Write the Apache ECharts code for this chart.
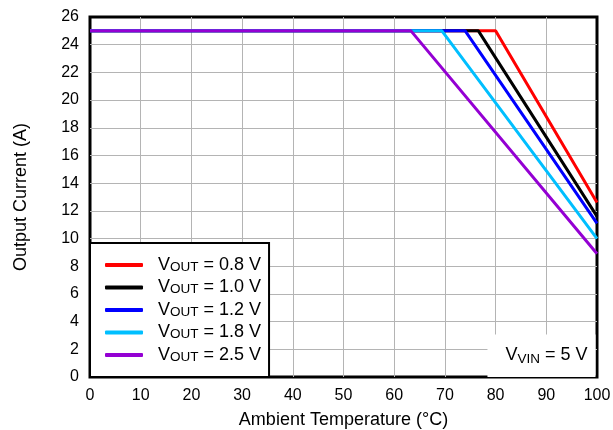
<!DOCTYPE html>
<html>
	<head>
		<meta charset="UTF-8">
		<title>Output Current vs Ambient Temperature</title>
		<script type="text/javascript" src="https://cdn.jsdelivr.net/npm/echarts@6/dist/echarts.min.js"></script>
		<style>
			body { margin: 0; background: #fff; }
			#chart { width: 613px; height: 430px; }
		</style>
	</head>
	<body>
		<div id="chart"></div>
		<script>
		// derating curves: flat at 25 A until the knee, then linear down to 100 °C
		var seriesNames = ["0.8", "1.0", "1.2", "1.8", "2.5"];
		var seriesColors = ["#ff0000", "#000000", "#0000ff", "#00bfff", "#9400d3"];
		var tempPoints = [
			[0, 80, 100],
			[0, 76.6, 100],
			[0, 74, 100],
			[0, 69.4, 100],
			[0, 63.3, 100]
		];
		var currentPoints = [
			[25, 25, 12.6],
			[25, 25, 11.6],
			[25, 25, 11.1],
			[25, 25, 10.0],
			[25, 25, 8.9]
		];
		var xTicks = [0, 10, 20, 30, 40, 50, 60, 70, 80, 90, 100];
		var yTicks = [0, 2, 4, 6, 8, 10, 12, 14, 16, 18, 20, 22, 24, 26];

		var font = "Liberation Sans, Arial, sans-serif";

		var series = [];
		for (var i = 0; i < seriesNames.length; i++) {
			var pts = [];
			for (var j = 0; j < tempPoints[i].length; j++) {
				pts.push([tempPoints[i][j], currentPoints[i][j]]);
			}
			series.push({
				name: "V{sub|OUT} = " + seriesNames[i] + " V",
				type: "line",
				data: pts,
				symbol: "none",
				color: seriesColors[i],
				lineStyle: { width: 3, color: seriesColors[i] },
				z: 2 + i
			});
		}

		var subStyle = { fontFamily: font, fontSize: 13.5, color: "#000", verticalAlign: "bottom", padding: [7, 0, 0, 0] };
		var gridLine = { show: true, showMinLine: false, showMaxLine: false, lineStyle: { color: "#b4b4b4", width: 1 } };

		var option = {
			animation: false,
			backgroundColor: "#fff",
			grid: {
				left: 90, right: 16, top: 17, bottom: 53,
				outerBoundsMode: "none",
				containLabel: false,
				show: true, borderColor: "#000", borderWidth: 3
			},
			xAxis: {
				type: "value",
				min: xTicks[0], max: xTicks[xTicks.length - 1], interval: 10,
				name: "Ambient Temperature (°C)",
				nameLocation: "middle", nameGap: 34,
				nameTextStyle: { fontFamily: font, fontSize: 18, color: "#000" },
				axisLine: { show: false },
				axisTick: { show: false },
				axisLabel: { fontFamily: font, fontSize: 16, color: "#000", margin: 11 },
				splitLine: gridLine
			},
			yAxis: {
				type: "value",
				min: yTicks[0], max: yTicks[yTicks.length - 1], interval: 2,
				name: "Output Current (A)",
				nameLocation: "middle", nameGap: 60,
				nameTextStyle: { fontFamily: font, fontSize: 18, color: "#000" },
				axisLine: { show: false },
				axisTick: { show: false },
				axisLabel: { fontFamily: font, fontSize: 16, color: "#000", margin: 11 },
				splitLine: gridLine
			},
			legend: {
				orient: "vertical",
				left: 90, bottom: 53,
				backgroundColor: "#fff",
				borderColor: "#000", borderWidth: 2, borderRadius: 0,
				padding: [13, 8, 13, 15],
				itemWidth: 38, itemHeight: 4, itemGap: 4.5,
				icon: "roundRect",
				data: series.map(function (s) { return s.name; }),
				textStyle: {
					fontFamily: font, fontSize: 18, color: "#000",
					lineHeight: 18,
					padding: [0, 0, 0, 10],
					rich: { sub: subStyle }
				}
			},
			title: {
				text: "V{sub|VIN} = 5 V",
				right: 17.5, bottom: 54.5,
				backgroundColor: "#fff",
				padding: [12, 8, 11, 18],
				textStyle: {
					fontFamily: font, fontSize: 18, fontWeight: "normal", color: "#000",
					rich: { sub: subStyle }
				}
			},
			series: series
		};

		var chart = echarts.init(document.getElementById("chart"), null, { renderer: "canvas" });
		chart.setOption(option);
		</script>
	</body>
</html>
